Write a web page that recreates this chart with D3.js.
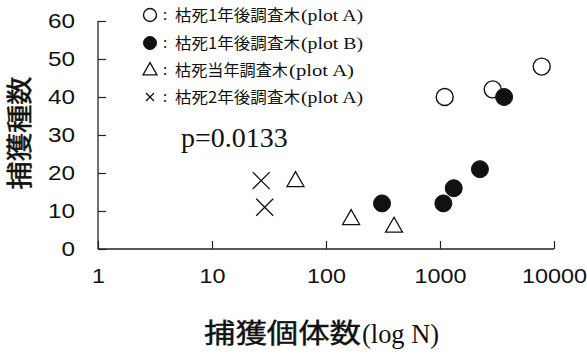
<!DOCTYPE html>
<html><head><meta charset="utf-8">
<script src="https://cdn.jsdelivr.net/npm/d3@7"></script>
<style>body{margin:0;background:#fff}</style>
</head><body>
<svg id="c" width="587" height="356"></svg>
<script>
const seriesNames = ["枯死1年後調査木", "枯死1年後調査木", "枯死当年調査木", "枯死2年後調査木"];
const seriesPlots = ["(plot A)", "(plot B)", "(plot A)", "(plot A)"];
const seriesShapes = ["openCircle", "filledCircle", "triangle", "cross"];
const openA_N = [1100, 2900, 7800];
const openA_S = [40, 42, 48];
const filledB_N = [310, 1070, 1320, 2240, 3650];
const filledB_S = [12, 12, 16, 21, 40];
const triA_N = [54, 166, 395];
const triA_S = [18, 8, 6];
const crossA_N = [27, 29];
const crossA_S = [18, 11];
const xTicks = [1, 10, 100, 1000, 10000];
const yTicks = [0, 10, 20, 30, 40, 50, 60];
const pText = "p=0.0133";

const svg = d3.select("#c");
const x = d3.scaleLog().domain([1, 10000]).range([98, 554]);
const y = d3.scaleLinear().domain([0, 60]).range([249, 21]);
const sans = "'Liberation Sans', Arial, sans-serif";
const jp = "'Noto Sans CJK JP', sans-serif";
const serif = "'Liberation Serif', 'Times New Roman', serif";

// axes
const xAxis = d3.axisBottom(x).tickValues(xTicks).tickSize(-8).tickFormat(d3.format("d")).tickPadding(14);
const gx = svg.append("g").attr("transform", "translate(0,249)").call(xAxis);
gx.select(".domain").attr("d", `M${x(1)},0H${x(10000)}`).attr("stroke", "#222").attr("stroke-width", 1.3);
gx.selectAll(".tick line").attr("stroke", "#222").attr("stroke-width", 1.2);
gx.selectAll(".tick text").attr("font-family", sans).attr("font-size", 21).attr("fill", "#111").attr("dy", "0.95em")
  .attr("textLength", d => String(d).length * 13).attr("lengthAdjust", "spacingAndGlyphs");

const yAxis = d3.axisLeft(y).tickValues(yTicks).tickSize(-8).tickPadding(23);
const gy = svg.append("g").attr("transform", "translate(98,0)").call(yAxis);
gy.select(".domain").attr("d", `M0,${y(60)}V${y(0)}`).attr("stroke", "#222").attr("stroke-width", 1.3);
gy.selectAll(".tick line").attr("stroke", "#222").attr("stroke-width", 1.2);
gy.selectAll(".tick text").attr("font-family", sans).attr("font-size", 21).attr("fill", "#111")
  .attr("textLength", d => String(d).length * 13.5).attr("lengthAdjust", "spacingAndGlyphs");

// axis titles
svg.append("text").attr("transform", `translate(29,133) rotate(-90)`)
  .attr("text-anchor", "middle").attr("font-family", jp).attr("font-size", 26).attr("font-weight", 400)
  .attr("fill", "#111").attr("stroke", "#111").attr("stroke-width", 0.5)
  .attr("textLength", 113).attr("lengthAdjust", "spacingAndGlyphs").text("捕獲種数");
svg.append("text").attr("x", 204).attr("y", 343)
  .attr("font-family", jp).attr("font-size", 27).attr("font-weight", 400).attr("fill", "#111")
  .attr("stroke", "#111").attr("stroke-width", 0.4)
  .attr("textLength", 157).attr("lengthAdjust", "spacingAndGlyphs").text("捕獲個体数");
svg.append("text").attr("x", 362).attr("y", 343)
  .attr("font-family", serif).attr("font-size", 27).attr("fill", "#111")
  .attr("textLength", 77).attr("lengthAdjust", "spacingAndGlyphs").text("(log N)");

// p value
svg.append("text").attr("x", 181).attr("y", 147).attr("font-family", serif).attr("font-size", 28)
  .attr("fill", "#111").text(pText);

// markers
function drawMarker(g, shape, cx, cy, s) {
  if (shape === "openCircle") {
    g.append("circle").attr("cx", cx).attr("cy", cy).attr("r", s).attr("fill", "#fff").attr("stroke", "#111").attr("stroke-width", 1.4);
  } else if (shape === "filledCircle") {
    g.append("circle").attr("cx", cx).attr("cy", cy).attr("r", s).attr("fill", "#111").attr("stroke", "#111");
  } else if (shape === "triangle") {
    const h = s * 1.75;
    g.append("path").attr("d", `M${cx},${cy - h * 0.6}L${cx + s},${cy + h * 0.4}L${cx - s},${cy + h * 0.4}Z`)
      .attr("fill", "none").attr("stroke", "#111").attr("stroke-width", 1.3);
  } else {
    g.append("path").attr("d", `M${cx - s},${cy - s}L${cx + s},${cy + s}M${cx + s},${cy - s}L${cx - s},${cy + s}`)
      .attr("stroke", "#111").attr("stroke-width", 1.3).attr("fill", "none");
  }
}
const pts = svg.append("g");
const sets = [[openA_N, openA_S], [filledB_N, filledB_S], [triA_N, triA_S], [crossA_N, crossA_S]];
sets.forEach((st, i) => {
  st[0].forEach((n, j) => {
    drawMarker(pts, seriesShapes[i], x(n), y(st[1][j]), 8.5);
  });
});

// legend
const lg = svg.append("g");
const legY = [15, 43, 70, 97];
const nameLen = [125, 125, 113, 125];
const plotLen = [62, 62, 65, 62];
seriesNames.forEach((nm, i) => {
  const sz = seriesShapes[i] === "cross" ? 4 : seriesShapes[i] === "triangle" ? 7 : 6.5;
  drawMarker(lg, seriesShapes[i], 150, legY[i], sz);
  lg.append("text").attr("x", 163).attr("y", legY[i] + 5).attr("font-family", jp).attr("font-size", 15).attr("fill", "#111").text(":");
  lg.append("text").attr("x", 175).attr("y", legY[i] + 6).attr("font-family", jp).attr("font-size", 15.5).attr("fill", "#111")
    .attr("textLength", nameLen[i]).attr("lengthAdjust", "spacingAndGlyphs").text(nm);
  lg.append("text").attr("x", 175 + nameLen[i] + 1).attr("y", legY[i] + 6).attr("font-family", serif).attr("font-size", 16).attr("fill", "#111")
    .attr("textLength", plotLen[i]).attr("lengthAdjust", "spacingAndGlyphs").text(seriesPlots[i]);
});
</script>
</body></html>
